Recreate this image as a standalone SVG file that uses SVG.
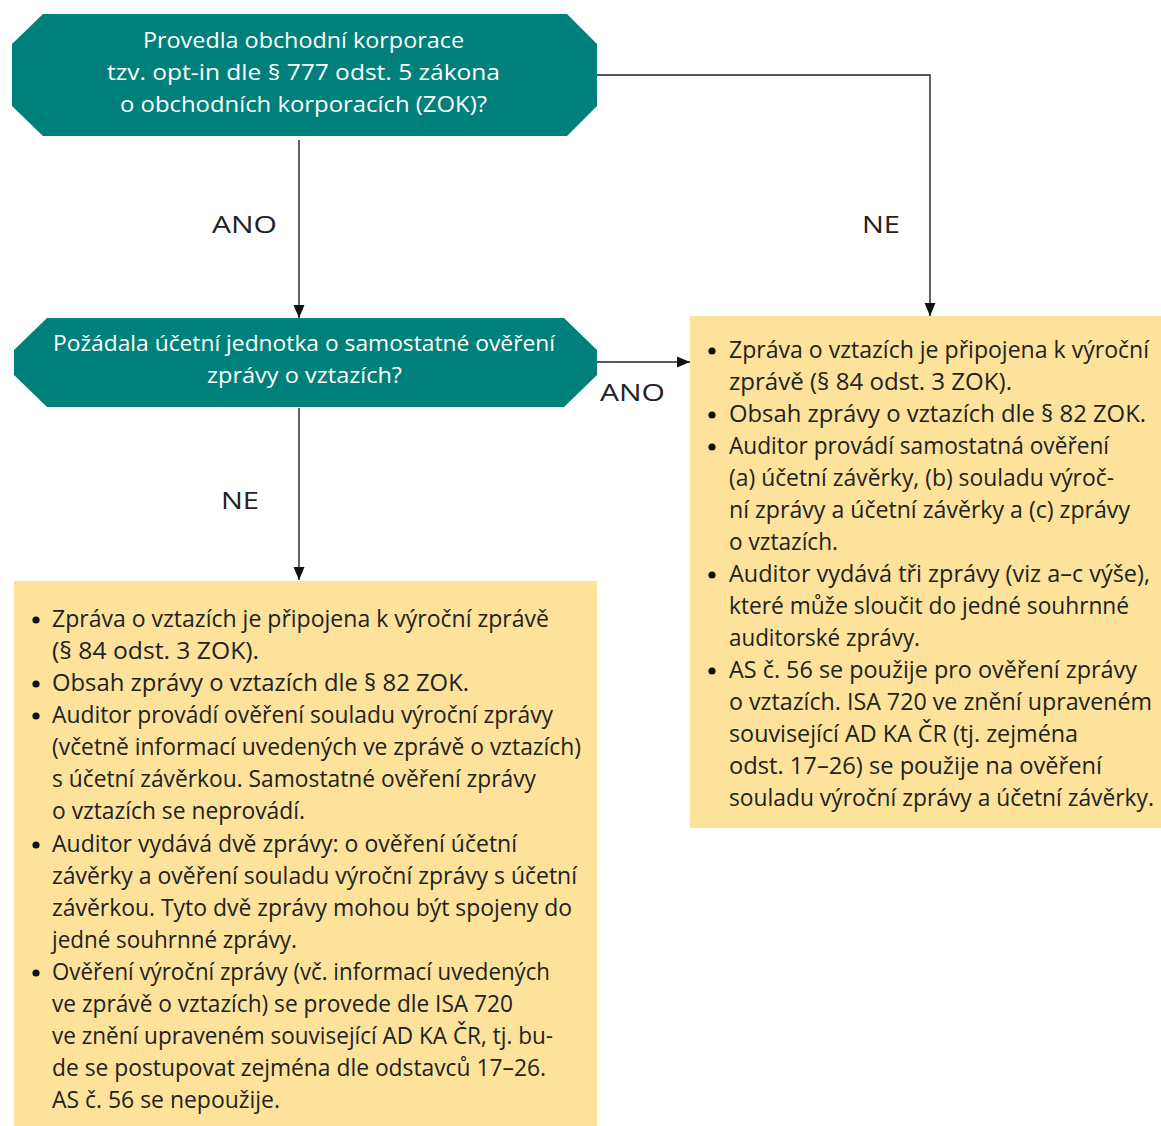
<svg xmlns="http://www.w3.org/2000/svg" width="1161" height="1126" viewBox="0 0 1161 1126">
<defs>
<style>
.dec{fill:#00807a;}
.box{fill:#fde29b;}
.qt{font-family:"Open Sans","Liberation Sans",sans-serif;font-size:22px;fill:#ffffff;}
.bt{font-family:"Open Sans","Liberation Sans",sans-serif;font-size:23px;fill:#222222;}
.lbl{font-family:"Open Sans","Liberation Sans",sans-serif;font-size:23px;fill:#222222;}
.con{fill:none;stroke:#222222;stroke-width:1.4;}
.bul{fill:#111111;}
</style>
<marker id="arr" markerUnits="userSpaceOnUse" markerWidth="14" markerHeight="14" viewBox="0 0 14 14" refX="13" refY="7" orient="auto">
<path d="M0,1.5 L13,7 L0,12.5 Z" fill="#111111"/>
</marker>
</defs>

<g id="connectors">
<path class="con" d="M299,140 V318" marker-end="url(#arr)"/>
<path class="con" d="M597,75 H930 V316" marker-end="url(#arr)"/>
<path class="con" d="M597,362 H690" marker-end="url(#arr)"/>
<path class="con" d="M299,408 V580" marker-end="url(#arr)"/>
<text class="lbl" x="212" y="233" textLength="65" lengthAdjust="spacingAndGlyphs">ANO</text>
<text class="lbl" x="862" y="233" textLength="38" lengthAdjust="spacingAndGlyphs">NE</text>
<text class="lbl" x="600" y="401" textLength="65" lengthAdjust="spacingAndGlyphs">ANO</text>
<text class="lbl" x="221" y="509" textLength="38" lengthAdjust="spacingAndGlyphs">NE</text>
</g>

<g id="q1">
<polygon class="dec" points="43,14 567,14 597,44 597,106 567,136 43,136 12,106 12,44"/>
<text class="qt" x="143" y="48" textLength="321" lengthAdjust="spacingAndGlyphs">Provedla obchodní korporace</text>
<text class="qt" x="107" y="80" textLength="393" lengthAdjust="spacingAndGlyphs">tzv. opt-in dle § 777 odst. 5 zákona</text>
<text class="qt" x="120" y="112" textLength="367" lengthAdjust="spacingAndGlyphs">o obchodních korporacích (ZOK)?</text>
</g>

<g id="q2">
<polygon class="dec" points="47,318 564,318 597,350 597,375 564,407 47,407 14,375 14,350"/>
<text class="qt" x="53" y="351" textLength="502" lengthAdjust="spacingAndGlyphs">Požádala účetní jednotka o samostatné ověření</text>
<text class="qt" x="207" y="383" textLength="195" lengthAdjust="spacingAndGlyphs">zprávy o vztazích?</text>
</g>

<g id="noBox">
<rect class="box" x="14" y="581" width="583" height="545"/>
<circle class="bul" cx="36" cy="620" r="3.6"/>
<circle class="bul" cx="36" cy="684" r="3.6"/>
<circle class="bul" cx="36" cy="716" r="3.6"/>
<circle class="bul" cx="36" cy="845" r="3.6"/>
<circle class="bul" cx="36" cy="973" r="3.6"/>
<text class="bt" x="52" y="627" textLength="497" lengthAdjust="spacingAndGlyphs">Zpráva o vztazích je připojena k výroční zprávě</text>
<text class="bt" x="52" y="659" textLength="207" lengthAdjust="spacingAndGlyphs">(§ 84 odst. 3 ZOK).</text>
<text class="bt" x="52" y="691" textLength="417" lengthAdjust="spacingAndGlyphs">Obsah zprávy o vztazích dle § 82 ZOK.</text>
<text class="bt" x="52" y="723" textLength="501" lengthAdjust="spacingAndGlyphs">Auditor provádí ověření souladu výroční zprávy</text>
<text class="bt" x="52" y="755" textLength="529" lengthAdjust="spacingAndGlyphs">(včetně informací uvedených ve zprávě o vztazích)</text>
<text class="bt" x="52" y="787" textLength="484" lengthAdjust="spacingAndGlyphs">s účetní závěrkou. Samostatné ověření zprávy</text>
<text class="bt" x="52" y="819" textLength="253" lengthAdjust="spacingAndGlyphs">o vztazích se neprovádí.</text>
<text class="bt" x="52" y="852" textLength="465" lengthAdjust="spacingAndGlyphs">Auditor vydává dvě zprávy: o ověření účetní</text>
<text class="bt" x="52" y="884" textLength="525" lengthAdjust="spacingAndGlyphs">závěrky a ověření souladu výroční zprávy s účetní</text>
<text class="bt" x="52" y="916" textLength="520" lengthAdjust="spacingAndGlyphs">závěrkou. Tyto dvě zprávy mohou být spojeny do</text>
<text class="bt" x="52" y="948" textLength="245" lengthAdjust="spacingAndGlyphs">jedné souhrnné zprávy.</text>
<text class="bt" x="52" y="980" textLength="498" lengthAdjust="spacingAndGlyphs">Ověření výroční zprávy (vč. informací uvedených</text>
<text class="bt" x="52" y="1012" textLength="461" lengthAdjust="spacingAndGlyphs">ve zprávě o vztazích) se provede dle ISA 720</text>
<text class="bt" x="52" y="1044" textLength="501" lengthAdjust="spacingAndGlyphs">ve znění upraveném související AD KA ČR, tj. bu-</text>
<text class="bt" x="52" y="1076" textLength="494" lengthAdjust="spacingAndGlyphs">de se postupovat zejména dle odstavců 17–26.</text>
<text class="bt" x="52" y="1108" textLength="228" lengthAdjust="spacingAndGlyphs">AS č. 56 se nepoužije.</text>
</g>

<g id="yesBox">
<rect class="box" x="690" y="316" width="471" height="512"/>
<circle class="bul" cx="712" cy="351" r="3.6"/>
<circle class="bul" cx="712" cy="415" r="3.6"/>
<circle class="bul" cx="712" cy="447" r="3.6"/>
<circle class="bul" cx="712" cy="575" r="3.6"/>
<circle class="bul" cx="712" cy="671" r="3.6"/>
<text class="bt" x="729" y="358" textLength="420" lengthAdjust="spacingAndGlyphs">Zpráva o vztazích je připojena k výroční</text>
<text class="bt" x="729" y="390" textLength="283" lengthAdjust="spacingAndGlyphs">zprávě (§ 84 odst. 3 ZOK).</text>
<text class="bt" x="729" y="422" textLength="417" lengthAdjust="spacingAndGlyphs">Obsah zprávy o vztazích dle § 82 ZOK.</text>
<text class="bt" x="729" y="454" textLength="380" lengthAdjust="spacingAndGlyphs">Auditor provádí samostatná ověření</text>
<text class="bt" x="729" y="486" textLength="385" lengthAdjust="spacingAndGlyphs">(a) účetní závěrky, (b) souladu výroč-</text>
<text class="bt" x="729" y="518" textLength="401" lengthAdjust="spacingAndGlyphs">ní zprávy a účetní závěrky a (c) zprávy</text>
<text class="bt" x="729" y="550" textLength="109" lengthAdjust="spacingAndGlyphs">o vztazích.</text>
<text class="bt" x="729" y="582" textLength="421" lengthAdjust="spacingAndGlyphs">Auditor vydává tři zprávy (viz a–c výše),</text>
<text class="bt" x="729" y="614" textLength="400" lengthAdjust="spacingAndGlyphs">které může sloučit do jedné souhrnné</text>
<text class="bt" x="729" y="646" textLength="191" lengthAdjust="spacingAndGlyphs">auditorské zprávy.</text>
<text class="bt" x="729" y="678" textLength="408" lengthAdjust="spacingAndGlyphs">AS č. 56 se použije pro ověření zprávy</text>
<text class="bt" x="729" y="710" textLength="423" lengthAdjust="spacingAndGlyphs">o vztazích. ISA 720 ve znění upraveném</text>
<text class="bt" x="729" y="742" textLength="349" lengthAdjust="spacingAndGlyphs">související AD KA ČR (tj. zejména</text>
<text class="bt" x="729" y="774" textLength="373" lengthAdjust="spacingAndGlyphs">odst. 17–26) se použije na ověření</text>
<text class="bt" x="729" y="806" textLength="425" lengthAdjust="spacingAndGlyphs">souladu výroční zprávy a účetní závěrky.</text>
</g>
</svg>
